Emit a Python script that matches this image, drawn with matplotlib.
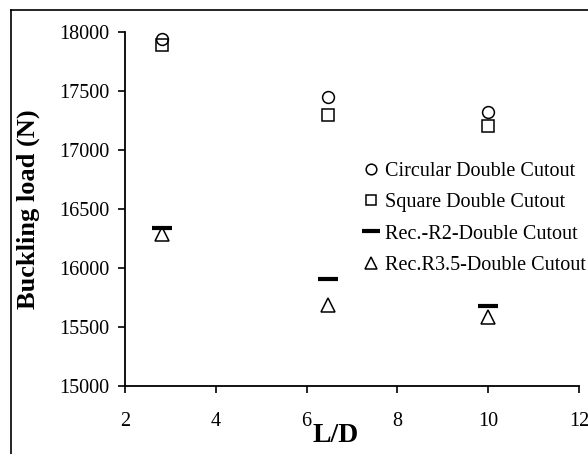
import numpy as np
import matplotlib
matplotlib.use("Agg")
from matplotlib import pyplot as plt
from matplotlib.lines import Line2D

plt.rcParams['font.family'] = ['Liberation Serif', 'DejaVu Serif']

ld = [2.82, 6.48, 10.0]
circular = [17940, 17445, 17320]
square = [17890, 17295, 17200]
rec_r2 = [16335, 15910, 15680]
rec_r35 = [16285, 15685, 15585]

fig = plt.figure(figsize=(5.88, 4.54), dpi=100)
ax = fig.add_axes([125/588, 1 - 386/454, (579 - 125)/588, (386 - 32)/454])

ax.plot(ld, circular, 'o', mfc='none', mec='black', ms=8.5, mew=1.1, label='Circular Double Cutout')
ax.plot(ld, square, 's', mfc='none', mec='black', ms=8.5, mew=1.1, label='Square Double Cutout')
ax.plot(ld, rec_r2, '_', color='black', ms=14, mew=3, label='Rec.-R2-Double Cutout')
ax.plot(ld, rec_r35, '^', mfc='none', mec='black', ms=9.5, mew=1.1, label='Rec.R3.5-Double Cutout')

ax.set_xlim(2, 12)
ax.set_ylim(15000, 18000)
ax.set_xticks(np.arange(2, 13, 2))
ax.set_yticks(np.arange(15000, 18001, 500))
for s in ['top', 'right']:
    ax.spines[s].set_visible(False)
for s in ['left', 'bottom']:
    ax.spines[s].set_linewidth(1.3)
ax.tick_params(labelsize=14.5, length=5, width=1.2, pad=6)
ax.tick_params(axis='x', pad=14)

ax.set_xlabel('L/D', fontsize=20, fontweight='bold')
ax.xaxis.set_label_coords(211/454, -37/354)
ax.set_ylabel('Buckling load (N)', fontsize=19, fontweight='bold')
ax.yaxis.set_label_coords(-85/454, 0.5)

leg = ax.legend(loc='upper left', bbox_to_anchor=(230/454, (386 - 152)/354), frameon=False, fontsize=14.5,
                handlelength=0.6, handletextpad=0.4, labelspacing=0.6, borderpad=0, markerscale=0.9)

# outer chart frame (partly cut off at right and bottom)
fig.add_artist(Line2D([11/588, 1.0], [1 - 10/454, 1 - 10/454], color='black', lw=1.2, transform=fig.transFigure))
fig.add_artist(Line2D([11/588, 11/588], [0, 1 - 10/454], color='black', lw=1.2, transform=fig.transFigure))

fig.savefig('out.png', dpi=100)
